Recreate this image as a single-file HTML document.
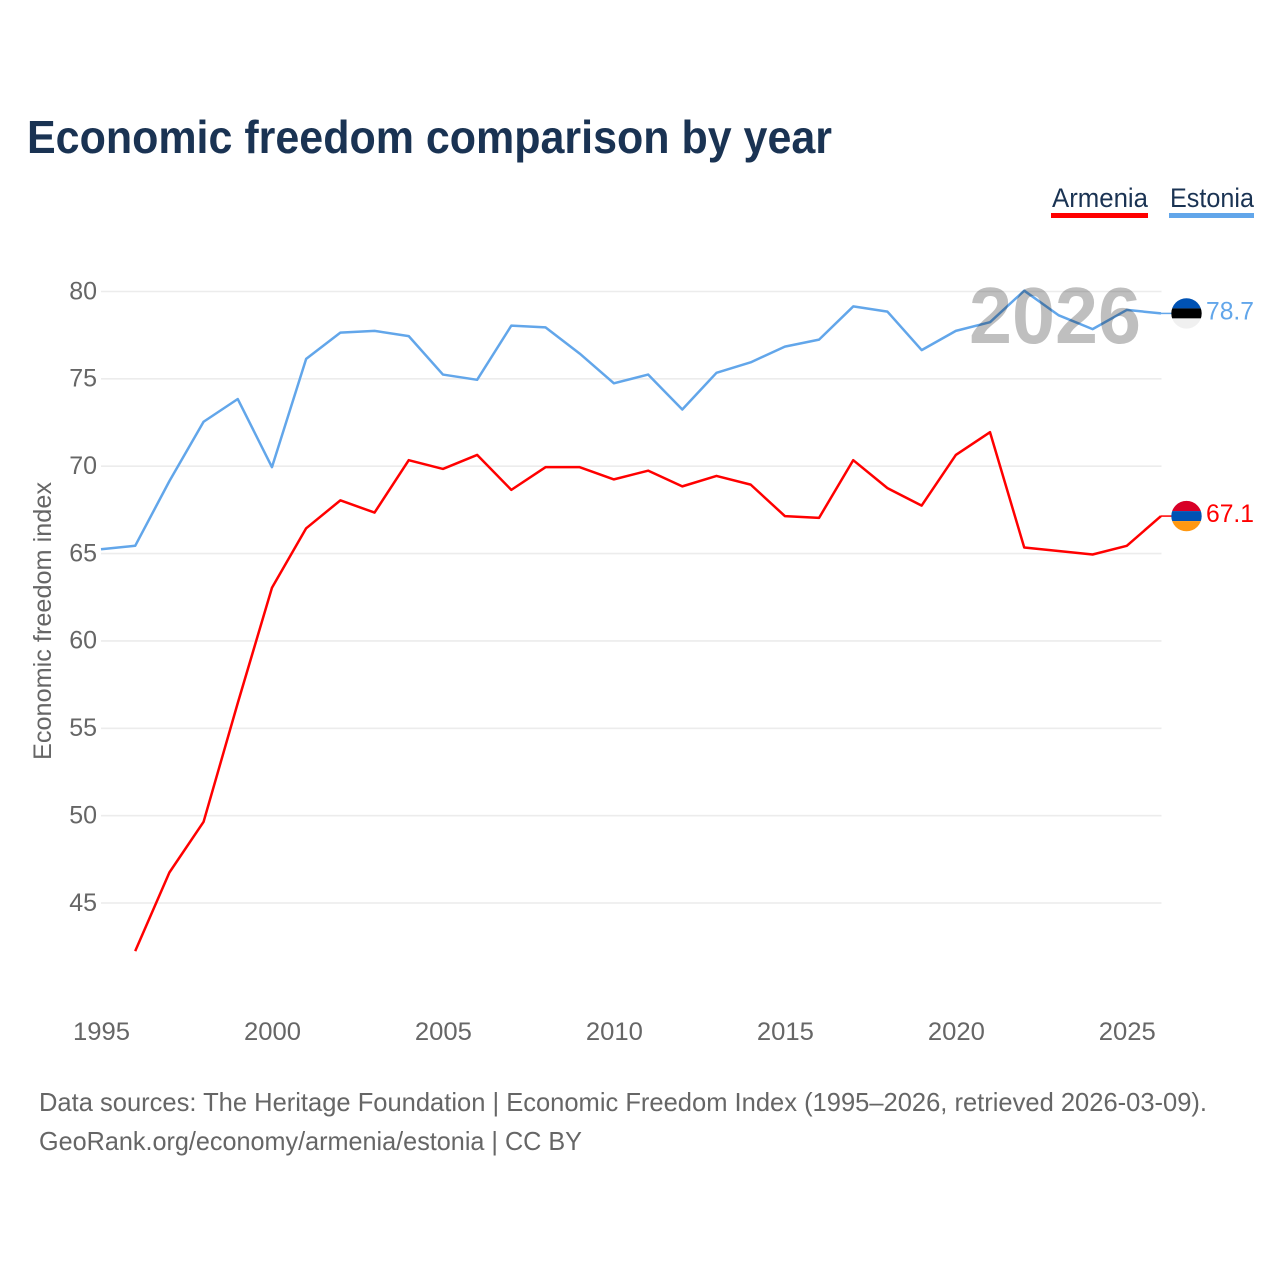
<!DOCTYPE html>
<html lang="en">
<head>
<meta charset="utf-8">
<title>Economic freedom comparison by year</title>
<style>
html,body{margin:0;padding:0;background:#fff;}
svg{display:block;font-family:"Liberation Sans",Arial,sans-serif;}
</style>
</head>
<body>
<svg id="chart" xmlns="http://www.w3.org/2000/svg" width="1280" height="1280" viewBox="0 0 1280 1280">
  <rect x="0" y="0" width="1280" height="1280" fill="#ffffff"/>
  <text x="27" y="153" font-size="46" font-weight="700" fill="#1a3353" textLength="805" lengthAdjust="spacingAndGlyphs">Economic freedom comparison by year</text>

  <g>
    <g>
      <text x="1052" y="207" font-size="27" fill="#1a3353" textLength="96" lengthAdjust="spacingAndGlyphs">Armenia</text>
      <rect x="1051" y="213" width="97" height="5" fill="#ff0000"/>
    </g>
    <g>
      <text x="1170" y="207" font-size="27" fill="#1a3353" textLength="84" lengthAdjust="spacingAndGlyphs">Estonia</text>
      <rect x="1169" y="213" width="85" height="5" fill="#62a6ea"/>
    </g>
  </g>

  <g id="grid"></g>
  <g id="yticks"></g>
  <g id="xticks"></g>
  <text transform="translate(51,621) rotate(-90)" text-anchor="middle" font-size="25" fill="#666666" textLength="278" lengthAdjust="spacingAndGlyphs">Economic freedom index</text>
  <g id="series" transform="translate(-0.5,-0.8)"></g>
  <text x="969" y="343" font-size="80" font-weight="700" fill="#000000" fill-opacity="0.25" textLength="172" lengthAdjust="spacingAndGlyphs">2026</text>
  <g id="ends"></g>

  <text x="39" y="1111" font-size="26" fill="#666666" textLength="1168" lengthAdjust="spacingAndGlyphs">Data sources: The Heritage Foundation | Economic Freedom Index (1995–2026, retrieved 2026-03-09).</text>
  <text x="39" y="1150" font-size="26" fill="#666666" textLength="543" lengthAdjust="spacingAndGlyphs">GeoRank.org/economy/armenia/estonia | CC BY</text>
</svg>
<script>
const years = [1995,1996,1997,1998,1999,2000,2001,2002,2003,2004,2005,2006,2007,2008,2009,2010,2011,2012,2013,2014,2015,2016,2017,2018,2019,2020,2021,2022,2023,2024,2025,2026];
const armeniaValues = [null,42.2,46.7,49.6,56.4,63.0,66.4,68.0,67.3,70.3,69.8,70.6,68.6,69.9,69.9,69.2,69.7,68.8,69.4,68.9,67.1,67.0,70.3,68.7,67.7,70.6,71.9,65.3,65.1,64.9,65.4,67.1];
const estoniaValues = [65.2,65.4,69.1,72.5,73.8,69.9,76.1,77.6,77.7,77.4,75.2,74.9,78.0,77.9,76.4,74.7,75.2,73.2,75.3,75.9,76.8,77.2,79.1,78.8,76.6,77.7,78.2,80.0,78.6,77.8,78.9,78.7];
const yTickLabels = [45,50,55,60,65,70,75,80];
const xTickLabels = [1995,2000,2005,2010,2015,2020,2025];

const NS = 'http://www.w3.org/2000/svg';
function xScale(year){ return 101.5 + (year - 1995) * (1161.5 - 101.5) / 31; }
function yScale(v){ return 903 - (v - 45) * (903 - 291.5) / 35; }
function make(tag, parent, attrs, text){
  const n = document.createElementNS(NS, tag);
  for (const k in attrs) n.setAttribute(k, attrs[k]);
  if (text !== undefined) n.textContent = text;
  parent.appendChild(n);
  return n;
}

const grid = document.getElementById('grid');
const yticks = document.getElementById('yticks');
yTickLabels.forEach(function(v){
  const line = make('line', grid, {x1:101, x2:1161.5, y1:yScale(v), y2:yScale(v), stroke:'#ececec', 'stroke-width':1.6});
  
  
  const label = make('text', yticks, {x:97, y:yScale(v)+7.8, 'text-anchor':'end', 'font-size':25, fill:'#666666'}, String(v));
  
  
});

const xticks = document.getElementById('xticks');
xTickLabels.forEach(function(yr){
  const label = make('text', xticks, {x:xScale(yr), y:1040, 'text-anchor':'middle', 'font-size':25, fill:'#666666', textLength:57, lengthAdjust:'spacingAndGlyphs'}, String(yr));
  
  
});

function linePath(values){
  let d = '';
  values.forEach(function(v, i){
    if (v === null) return;
    d += (d ? 'L' : 'M') + xScale(years[i]).toFixed(2) + ' ' + yScale(v).toFixed(2);
  });
  return d;
}

const seriesGroup = document.getElementById('series');
const armeniaLine = make('path', seriesGroup, {d:linePath(armeniaValues), fill:'none', stroke:'#ff0000', 'stroke-width':2.5, 'stroke-linejoin':'round'});


const estoniaLine = make('path', seriesGroup, {d:linePath(estoniaValues), fill:'none', stroke:'#62a6ea', 'stroke-width':2.5, 'stroke-linejoin':'round'});



const ends = document.getElementById('ends');
function drawEnd(groupName, values, color, bands, clipId){
  const last = values[values.length - 1];
  const ly = yScale(last) - 0.8;
  const cy = ly;
  const g = make('g', ends, {});
  
  
  const connector = make('line', g, {x1:1161, x2:1172, y1:ly, y2:ly, stroke:color, 'stroke-width':1.5});
  
  
  const defs = make('defs', g, {});
  const clip = make('clipPath', defs, {id:clipId});
  make('circle', clip, {cx:1186.5, cy:cy, r:15.2});
  const flag = make('g', g, {'clip-path':'url(#' + clipId + ')'});
  
  
  make('rect', flag, {x:1171, y:cy-16, width:32, height:11, fill:bands[0]});
  make('rect', flag, {x:1171, y:cy-5, width:32, height:10, fill:bands[1]});
  make('rect', flag, {x:1171, y:cy+5, width:32, height:11, fill:bands[2]});
  const label = make('text', g, {x:1206, y:ly+6, 'font-size':25, fill:color, textLength:48, lengthAdjust:'spacingAndGlyphs'}, last.toFixed(1));
  
  
}
drawEnd('end-marker-armenia', armeniaValues, '#ff0000', ['#d80027','#0052b4','#ff9811'], 'clip-am');
drawEnd('end-marker-estonia', estoniaValues, '#62a6ea', ['#0052b4','#000000','#f0f0f0'], 'clip-ee');
</script>
</body>
</html>
